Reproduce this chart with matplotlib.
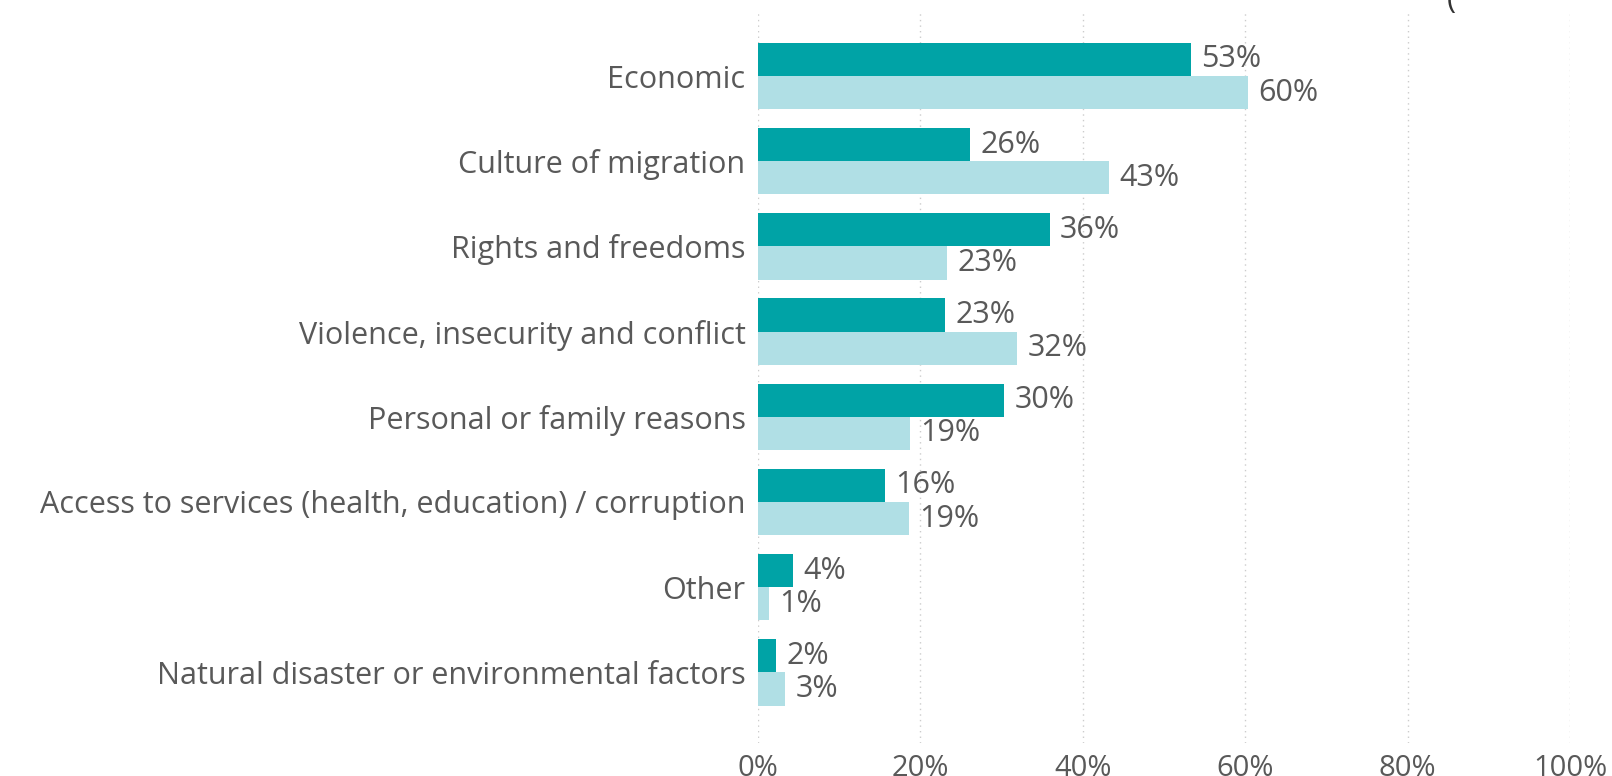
import matplotlib.pyplot as plt
import numpy as np

plt.rcParams['font.family'] = ['Open Sans', 'DejaVu Sans']

categories = [
    "Economic",
    "Culture of migration",
    "Rights and freedoms",
    "Violence, insecurity and conflict",
    "Personal or family reasons",
    "Access to services (health, education) / corruption",
    "Other",
    "Natural disaster or environmental factors",
]
series_a = [53.3, 26.1, 35.9, 23.0, 30.3, 15.6, 4.3, 2.2]
series_b = [60.3, 43.2, 23.3, 31.9, 18.7, 18.6, 1.3, 3.3]
xticks = [0, 20, 40, 60, 80, 100]

DARK = "#00A3A6"
LIGHT = "#B0DFE5"
TXT = "#595959"

fig = plt.figure(figsize=(16.12, 7.76), dpi=100)
ax = fig.add_axes([758 / 1612, 33 / 776, 812 / 1612, 730 / 776])

y = np.arange(len(categories))
h = 0.39
ax.barh(y - h / 2, series_a, height=h, color=DARK, zorder=2)
ax.barh(y + h / 2, series_b, height=h, color=LIGHT, zorder=2)

for yi, a, b in zip(y, series_a, series_b):
    ax.text(a + 1.3, yi - h / 2, f"{round(a)}%", va='center', ha='left',
            fontsize=22, color=TXT)
    ax.text(b + 1.3, yi + h / 2, f"{round(b)}%", va='center', ha='left',
            fontsize=22, color=TXT)

ax.set_xlim(0, 100)
ax.set_ylim(7.83, -0.74)
ax.set_yticks(y)
ax.set_yticklabels(categories, fontsize=22, color=TXT)
ax.set_xticks(xticks)
ax.set_xticklabels([f"{t}%" for t in xticks], fontsize=21, color=TXT)
ax.tick_params(axis='both', length=0)
ax.tick_params(axis='y', pad=9)
ax.tick_params(axis='x', pad=8)
ax.grid(axis='x', color='#cccccc', linestyle=(0, (1, 3)), linewidth=1, zorder=0)
for s in ax.spines.values():
    s.set_visible(False)

fig.text(1447 / 1612, 1.0, "(", fontsize=22, color="#333333", ha='left', va='center')

fig.savefig("out.png", dpi=100)
